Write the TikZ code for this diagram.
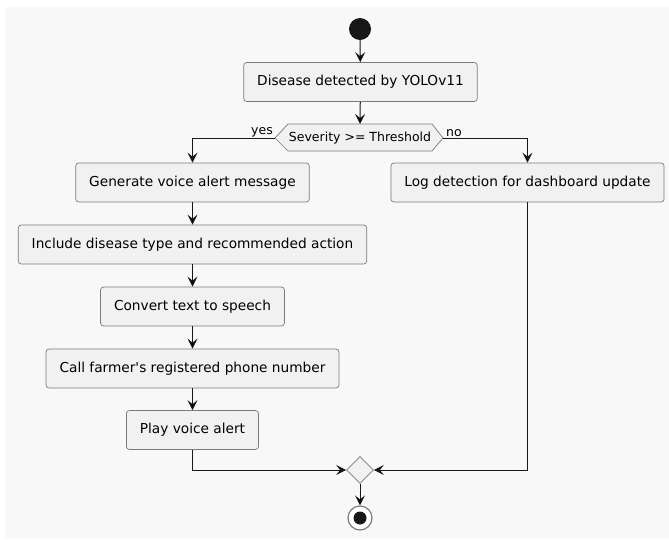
\documentclass[tikz,border=0pt]{standalone}
\usepackage{fontspec}
\setmainfont{DejaVu Sans}
\usetikzlibrary{arrows.meta,shapes.geometric}
\definecolor{bgcol}{HTML}{F8F8F8}
\definecolor{boxcol}{HTML}{F1F1F1}
\definecolor{linecol}{HTML}{181818}
\definecolor{edgecol}{HTML}{7A7A7A}

\begin{document}
\begin{tikzpicture}[x=1pt,y=-1pt,
  >={Stealth[length=10pt,width=10pt,inset=4pt]},
  act/.style={draw=edgecol,line width=0.7pt,fill=boxcol,rounded corners=3pt,
    minimum height=39pt,inner xsep=13.5pt,font=\fontsize{13.7}{16}\selectfont},
  lbl/.style={font=\fontsize{12.5}{14}\selectfont,inner sep=1pt},
  flow/.style={->,draw=linecol,line width=1pt}]
  \useasboundingbox (0,0) rectangle (669,539);
  \fill[white] (0,0) rectangle (669,539);
  \fill[bgcol] (5,7) rectangle (669,539);

  \node[circle,fill=linecol,minimum size=22pt,inner sep=0] (start) at (360,29) {};
  \node[act] (detect) at (360.5,82) {Disease detected by YOLOv11};

  \coordinate (sevw) at (275,138);
  \coordinate (seve) at (443,138);
  \draw[draw=edgecol,line width=0.7pt,fill=boxcol] (sevw) -- (288,124) -- (432,124) -- (seve) -- (432,151) -- (288,151) -- cycle;
  \node[font=\fontsize{12.5}{15}\selectfont] (sev) at (360,138) {Severity >= Threshold};
  \node[lbl,anchor=south east] (yes) at (274,138) {yes};
  \node[lbl,anchor=south west] (no) at (445,138) {no};

  \node[act] (gen)  at (192.5,182.5) {Generate voice alert message};
  \node[act] (inc)  at (192.5,244.5) {Include disease type and recommended action};
  \node[act] (conv) at (192.5,306.5) {Convert text to speech};
  \node[act] (call) at (192.5,368.5) {Call farmer\textquotesingle s registered phone number};
  \node[act] (play) at (192.5,430)   {Play voice alert};
  \node[act] (log)  at (527.5,182.5) {Log detection for dashboard update};

  \node[diamond,draw=edgecol,line width=0.7pt,fill=boxcol,minimum size=27pt,inner sep=0] (merge) at (360,470) {};
  \node[circle,draw=edgecol,line width=1.2pt,fill=white,minimum size=24pt,inner sep=0] (stop) at (360,518) {};
  \node[circle,fill=linecol,minimum size=13pt,inner sep=0] (stopdot) at (stop) {};

  \path[flow] (start) edge (detect)
              (detect) edge (sev.north |- 0,124)
              (gen) edge (inc)
              (inc) edge (conv)
              (conv) edge (call)
              (call) edge (play)
              (merge) edge (stop);
  \draw[flow] (sevw) -| (gen);
  \draw[flow] (seve) -| (log);
  \draw[flow] (play) |- (merge);
  \draw[flow] (log) |- (merge);
\end{tikzpicture}
\end{document}
